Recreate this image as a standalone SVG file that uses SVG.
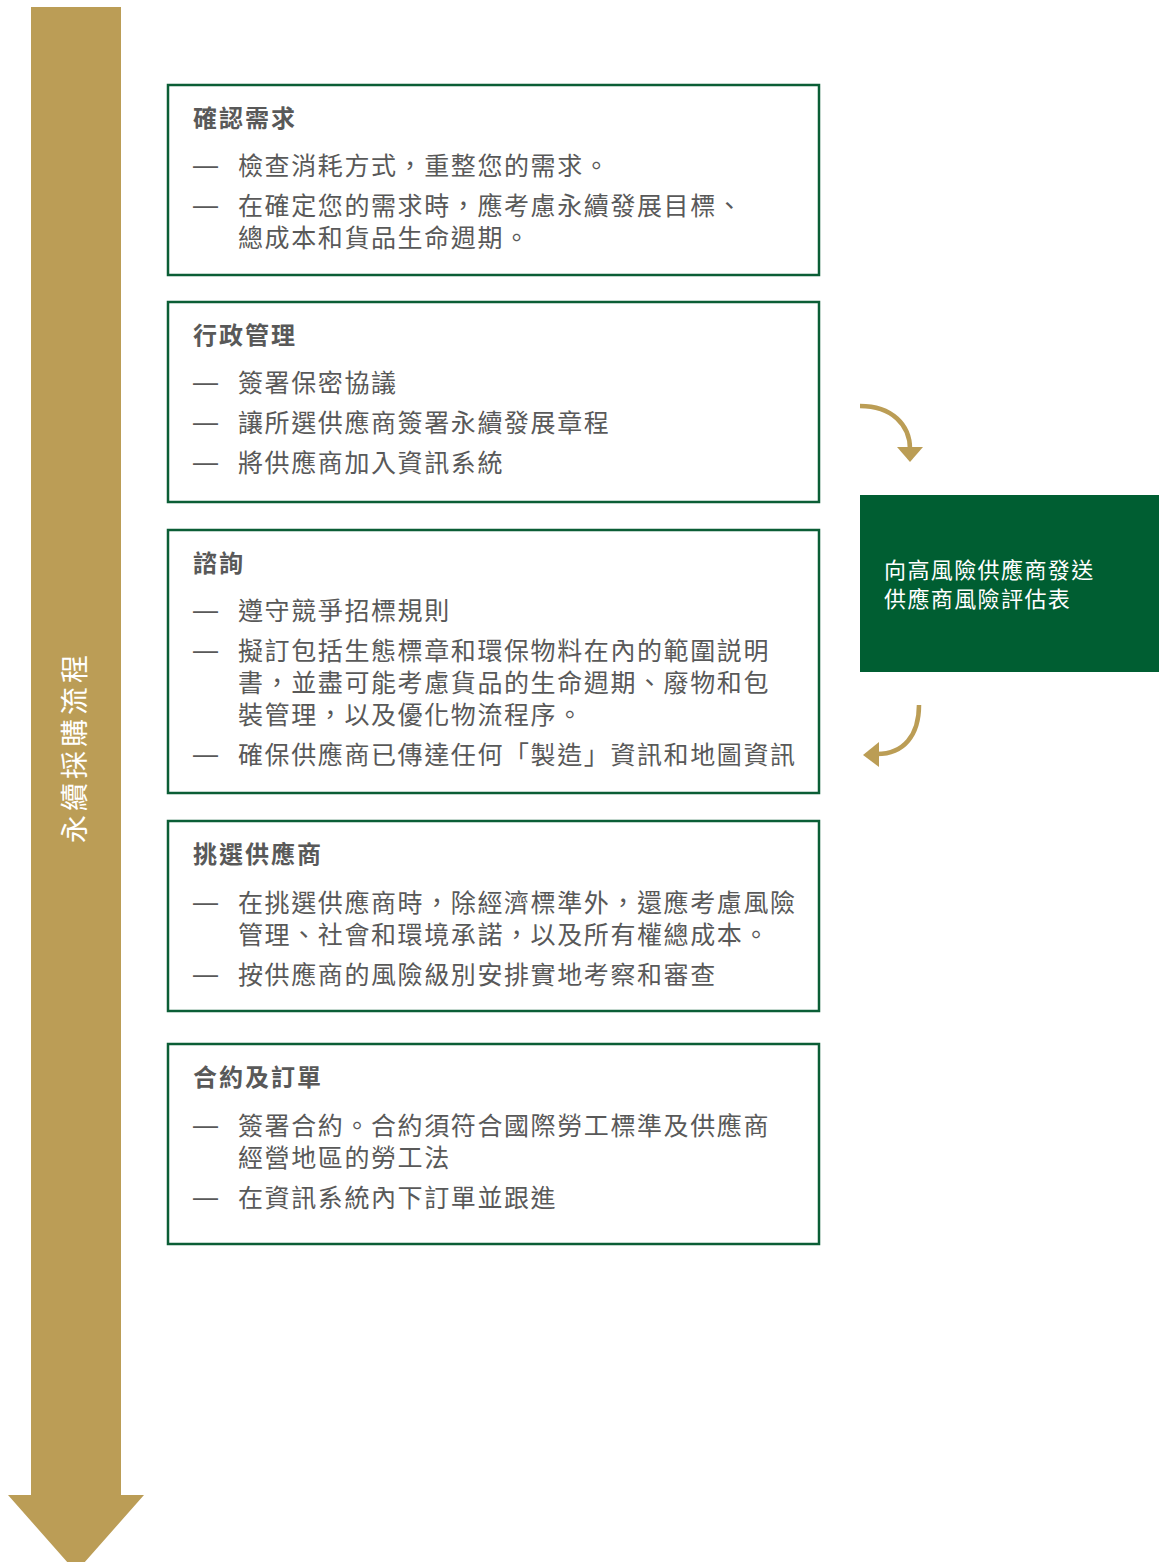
<svg xmlns="http://www.w3.org/2000/svg" width="1159" height="1562" viewBox="0 0 1159 1562">
<style>
.box{fill:#fff;stroke:#0b5e36;stroke-width:2.5}
.h{font-family:"Noto Sans CJK TC","Noto Sans CJK SC",sans-serif;font-size:24px;font-weight:bold;fill:#595959;letter-spacing:2px}
.t{font-family:"Noto Sans CJK TC","Noto Sans CJK SC",sans-serif;font-size:25px;fill:#595959;letter-spacing:1.6px}
.d{font-family:"Liberation Sans",sans-serif;font-size:25px;fill:#595959}
.w{font-family:"Noto Sans CJK TC","Noto Sans CJK SC",sans-serif;font-size:22px;fill:#ffffff;letter-spacing:1.4px}
.v{font-family:"Noto Sans CJK TC","Noto Sans CJK SC",sans-serif;font-size:28px;fill:#ffffff;letter-spacing:4px}
.c{fill:none;stroke:#bb9d55;stroke-width:4.5}
.ah{fill:#bb9d55}
</style>
<g id="timeline">
<polygon points="31,7 121,7 121,1495 144,1495 76,1572 8,1495 31,1495" fill="#bb9d56"/>
<text class="v" text-anchor="middle" transform="translate(85,747) rotate(-90)">永續採購流程</text>
</g>
<g id="node1">
<rect class="box" x="168" y="85" width="651" height="190"/>
<text class="h" x="193" y="127">確認需求</text>
<text class="d" x="193" y="174">—</text><text class="t" x="238" y="175">檢查消耗方式，重整您的需求。</text>
<text class="d" x="193" y="214">—</text><text class="t" x="238" y="215">在確定您的需求時，應考慮永續發展目標、</text>
<text class="t" x="238" y="247">總成本和貨品生命週期。</text>
</g>
<g id="node2">
<rect class="box" x="168" y="302" width="651" height="200"/>
<text class="h" x="193" y="344">行政管理</text>
<text class="d" x="193" y="391">—</text><text class="t" x="238" y="392">簽署保密協議</text>
<text class="d" x="193" y="431">—</text><text class="t" x="238" y="432">讓所選供應商簽署永續發展章程</text>
<text class="d" x="193" y="471">—</text><text class="t" x="238" y="472">將供應商加入資訊系統</text>
</g>
<g id="node3">
<rect class="box" x="168" y="530" width="651" height="263"/>
<text class="h" x="193" y="572">諮詢</text>
<text class="d" x="193" y="619">—</text><text class="t" x="238" y="620">遵守競爭招標規則</text>
<text class="d" x="193" y="659">—</text><text class="t" x="238" y="660">擬訂包括生態標章和環保物料在內的範圍説明</text>
<text class="t" x="238" y="692">書，並盡可能考慮貨品的生命週期、廢物和包</text>
<text class="t" x="238" y="724">裝管理，以及優化物流程序。</text>
<text class="d" x="193" y="763">—</text><text class="t" x="238" y="764">確保供應商已傳達任何「製造」資訊和地圖資訊</text>
</g>
<g id="node4">
<rect class="box" x="168" y="821" width="651" height="190"/>
<text class="h" x="193" y="863">挑選供應商</text>
<text class="d" x="193" y="911">—</text><text class="t" x="238" y="912">在挑選供應商時，除經濟標準外，還應考慮風險</text>
<text class="t" x="238" y="944">管理、社會和環境承諾，以及所有權總成本。</text>
<text class="d" x="193" y="983">—</text><text class="t" x="238" y="984">按供應商的風險級別安排實地考察和審查</text>
</g>
<g id="node5">
<rect class="box" x="168" y="1044" width="651" height="200"/>
<text class="h" x="193" y="1086">合約及訂單</text>
<text class="d" x="193" y="1134">—</text><text class="t" x="238" y="1135">簽署合約。合約須符合國際勞工標準及供應商</text>
<text class="t" x="238" y="1167">經營地區的勞工法</text>
<text class="d" x="193" y="1206">—</text><text class="t" x="238" y="1207">在資訊系統內下訂單並跟進</text>
</g>
<g id="node6">
<rect x="860" y="495" width="299" height="177" fill="#005e32"/>
<text class="w" x="884" y="578">向高風險供應商發送</text>
<text class="w" x="884" y="607">供應商風險評估表</text>
</g>
<g id="connectors">
<path class="c" d="M860,406 C892,406 910,425 910,449"/>
<polygon class="ah" points="897,447 923,447 910,462"/>
<path class="c" d="M919,705 C919,735 904,754 877,754"/>
<polygon class="ah" points="879,742 879,767 863,755"/>
</g>
</svg>
